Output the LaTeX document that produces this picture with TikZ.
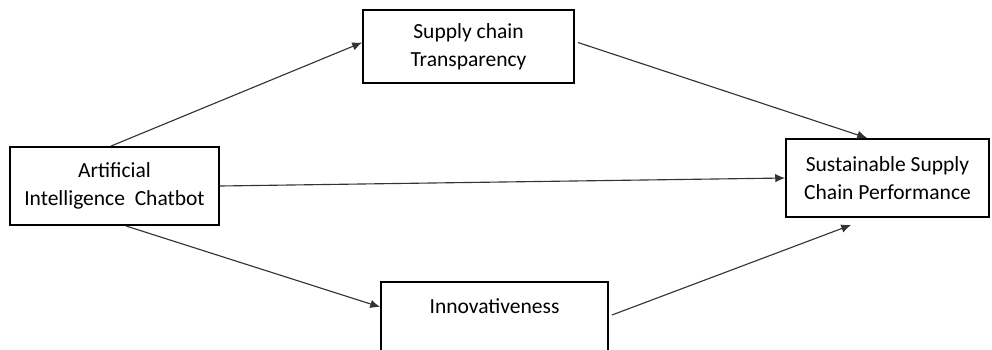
\documentclass[tikz,border=0pt]{standalone}
\usepackage{fontspec}
\setmainfont{Carlito}
\usetikzlibrary{arrows.meta,calc}

\begin{document}
\begin{tikzpicture}[x=0.025cm,y=-0.025cm,>={Latex[length=7pt,width=6pt]},
    box/.style={draw,line width=1.4pt,align=center,inner sep=0pt,
      font=\fontsize{15.3}{19.8}\selectfont},
    link/.style={->,line width=0.8pt,draw=black!80}]
    \useasboundingbox (0,0) rectangle (992,349);

    % the four constructs
    \node[box,minimum width=5.22cm,minimum height=1.95cm] (ai) at (114.5,186)
      {Artificial\\Intelligence~ Chatbot};
    \node[box,minimum width=5.27cm,minimum height=1.82cm] (sct) at (468.5,46.5)
      {Supply chain\\Transparency};
    \node[box,minimum width=5.07cm,minimum height=1.95cm] (sscp) at (887.5,178)
      {Sustainable Supply\\Chain Performance};
    \node[box,minimum width=5.67cm,minimum height=1.9cm] (inno) at (494.5,320)
      {Innovativeness\\\mbox{}};

    % paths between them
    \draw[link] ($(ai.north west)+(102,0)$) -- ($(sct.west)+(0,-4)$);
    \draw[link] ($(sct.east)+(3,-4)$) -- ($(sscp.north west)+(82,0)$);
    \draw[link] (ai.east) -- (sscp.west);
    \draw[link] ($(ai.south west)+(117,0)$) -- ($(inno.north west)+(0,26)$);
    \draw[link] ($(inno.north east)+(3,34)$) -- ($(sscp.south west)+(66,7)$);
  \end{tikzpicture}
\end{document}
